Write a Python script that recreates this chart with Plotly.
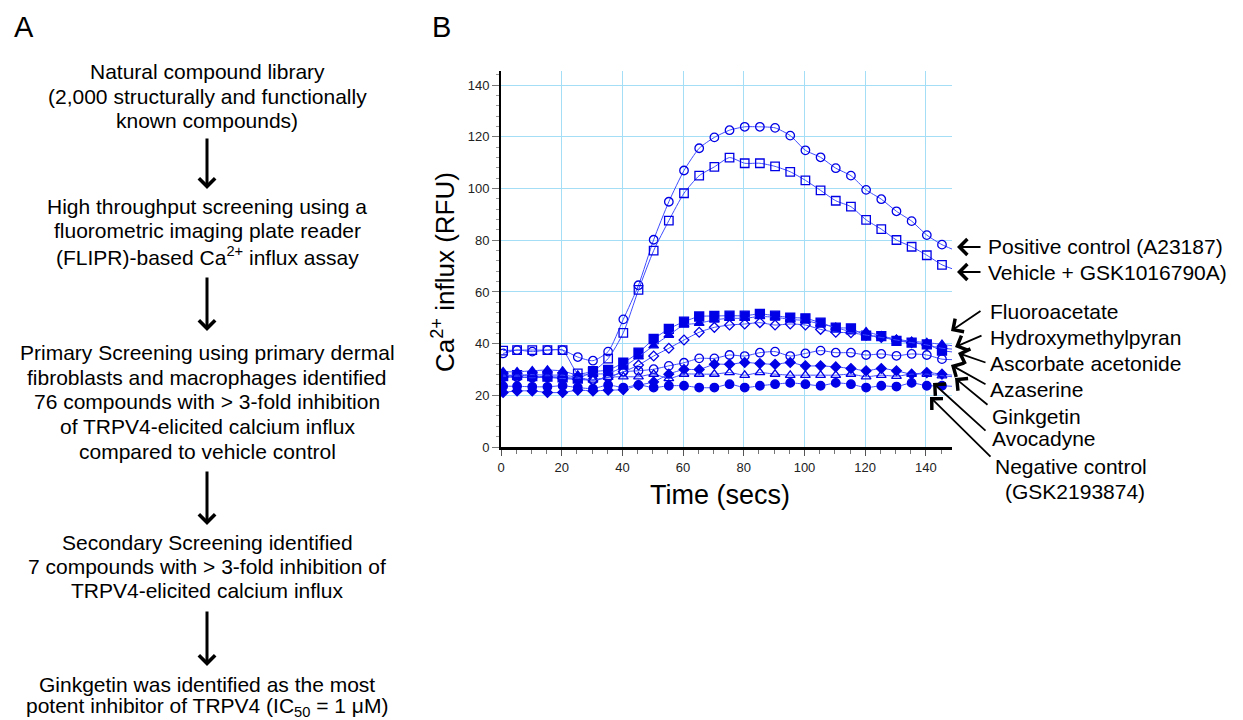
import plotly.graph_objects as go

FONT = "Liberation Sans, Arial, sans-serif"

# ---------------- data ----------------
times = [0.7, 5.3, 10.3, 15.3, 20.3, 25.3, 30.3, 35.3, 40.3, 45.3,
         50.3, 55.3, 60.3, 65.3, 70.3, 75.3, 80.3, 85.3, 90.3, 95.3,
         100.3, 105.3, 110.3, 115.3, 120.3, 125.3, 130.3, 135.3, 140.3, 145.3]
x_end = 148.6

positive = [36.2, 37.5, 36.9, 37.5, 37.5, 34.8, 33.4, 36.9, 49.4, 62.6,
            80.2, 94.9, 107.0, 115.6, 119.8, 122.6, 123.9, 123.9, 123.5, 120.5,
            114.8, 112.1, 107.9, 105.0, 99.5, 95.9, 91.2, 87.4, 82.0, 78.3]
vehicle = [37.3, 37.5, 37.5, 37.5, 37.5, 28.5, 29.4, 34.2, 44.2, 60.8,
           76.0, 87.6, 98.2, 105.0, 108.4, 112.0, 109.8, 109.8, 108.6, 106.5,
           103.2, 99.3, 95.3, 93.0, 87.9, 84.3, 80.1, 77.5, 74.2, 70.5]
fluoroacetate = [27.4, 27.8, 27.4, 27.2, 27.0, 26.5, 29.1, 29.8, 32.6, 36.5,
                 41.8, 45.7, 48.5, 50.5, 50.7, 50.8, 50.8, 51.5, 50.8, 50.1,
                 49.8, 48.1, 46.2, 45.9, 43.1, 42.9, 41.1, 40.4, 39.7, 37.3]
hydroxymethylpyran = [29.1, 29.1, 29.5, 29.8, 29.4, 27.8, 28.2, 28.5, 31.0, 34.9,
                      39.2, 43.3, 47.2, 47.9, 49.2, 49.8, 49.8, 50.5, 50.2, 49.4,
                      48.9, 47.6, 46.3, 44.6, 44.6, 43.0, 41.7, 40.9, 40.4, 39.7]
ascorbate = [27.2, 27.2, 26.9, 26.9, 26.5, 26.1, 25.9, 26.9, 29.1, 31.7,
             35.2, 38.2, 41.4, 44.4, 46.3, 47.2, 47.6, 48.1, 47.2, 47.6,
             47.2, 45.5, 44.4, 44.2, 43.3, 42.4, 41.4, 40.4, 39.5, 38.2]
azaserine = [27.0, 27.0, 26.8, 27.0, 26.8, 26.5, 25.9, 27.0, 29.1, 29.5,
             30.1, 31.4, 32.6, 34.3, 34.3, 35.6, 35.2, 36.5, 36.9, 35.2,
             36.2, 37.3, 36.5, 36.5, 35.6, 36.0, 35.3, 36.0, 35.6, 34.0]
ginkgetin = [21.1, 21.7, 21.7, 21.1, 21.1, 22.0, 21.7, 22.0, 22.2, 23.9,
             25.2, 28.2, 30.0, 30.0, 32.0, 32.0, 32.7, 32.3, 32.0, 32.7,
             31.4, 31.4, 31.0, 30.4, 29.5, 30.4, 29.5, 28.2, 28.8, 28.2]
avocadyne = [27.8, 27.8, 28.0, 27.8, 27.8, 27.0, 25.9, 27.0, 27.2, 27.2,
             28.2, 26.5, 28.2, 28.2, 28.2, 28.8, 27.8, 28.8, 28.2, 27.8,
             27.8, 27.8, 27.8, 28.2, 27.2, 27.8, 27.4, 28.2, 28.2, 27.6]
negative = [23.5, 23.5, 23.3, 23.3, 23.7, 23.0, 22.6, 24.0, 23.0, 24.0,
            23.0, 23.7, 23.7, 23.0, 23.0, 24.3, 23.0, 23.7, 24.3, 24.8,
            24.3, 23.7, 24.8, 24.3, 23.0, 23.7, 23.4, 24.8, 23.7, 23.7]

# value where each curve meets the right edge of the plot
end_values = {
    "positive": 76.6, "vehicle": 69.0, "fluoroacetate": 36.8,
    "hydroxymethylpyran": 39.2, "ascorbate": 37.9, "azaserine": 33.8,
    "ginkgetin": 27.8, "avocadyne": 27.2, "negative": 23.5,
}

x_ticks = [0, 20, 40, 60, 80, 100, 120, 140]
y_ticks = [0, 20, 40, 60, 80, 100, 120, 140]

series = [
    ("positive", positive, "circle-open", 8.5),
    ("vehicle", vehicle, "square-open", 8.5),
    ("fluoroacetate", fluoroacetate, "square", 9),
    ("hydroxymethylpyran", hydroxymethylpyran, "triangle-up", 8.5),
    ("ascorbate", ascorbate, "diamond-open", 7.5),
    ("azaserine", azaserine, "circle-open", 8.5),
    ("ginkgetin", ginkgetin, "diamond", 7.5),
    ("avocadyne", avocadyne, "triangle-up-open", 8.5),
    ("negative", negative, "circle", 8.5),
]

LINE_C = "#3f4cff"
MARK_C = "#0000e6"

fig = go.Figure()
for name, vals, sym, size in series:
    fig.add_trace(go.Scatter(
        x=times + [x_end], y=vals + [end_values[name]], mode="lines",
        line=dict(color=LINE_C, width=1, shape="spline", smoothing=0.6),
        hoverinfo="skip", showlegend=False))
    fig.add_trace(go.Scatter(
        x=times, y=vals, mode="markers", name=name,
        marker=dict(symbol=sym, size=size, color=MARK_C,
                    line=dict(color=MARK_C, width=1.3)),
        showlegend=False))

# ---------------- layout ----------------
# screen coordinates of the plot area (page body has an 8px margin)
OFF = 8
L, R, T, B = 501, 952, 71, 447
W_FIG, H_FIG = 1235, 712


def px(x):
    return (x - L) / (R - L)


def py(y):
    return (B - y) / (B - T)


fig.update_layout(
    width=W_FIG, height=H_FIG,
    margin=dict(l=L - OFF, r=W_FIG - (R - OFF), t=T - OFF, b=H_FIG - (B - OFF), pad=0),
    paper_bgcolor="white", plot_bgcolor="white",
    font=dict(family=FONT, color="#222"),
    showlegend=False,
)
fig.update_xaxes(
    range=[0, x_end], tickvals=x_ticks, ticktext=[str(v) for v in x_ticks],
    showgrid=True, gridcolor="#a3def6", gridwidth=1,
    zeroline=False, showline=True, linecolor="black", linewidth=3,
    ticks="outside", ticklen=6, tickwidth=1, tickcolor="#555",
    minor=dict(dtick=5, tick0=0, ticks="outside", ticklen=4, tickcolor="#777", showgrid=False),
    tickfont=dict(size=13, family=FONT, color="#222"),
)
fig.update_yaxes(
    range=[0, 145.5], tickvals=y_ticks, ticktext=[str(v) for v in y_ticks],
    showgrid=True, gridcolor="#a3def6", gridwidth=1,
    zeroline=False, showline=True, linecolor="black", linewidth=2,
    ticks="outside", ticklen=7, tickwidth=1, tickcolor="#777",
    minor=dict(dtick=4, tick0=0, ticks="outside", ticklen=3, tickcolor="#999", showgrid=False),
    tickfont=dict(size=13, family=FONT, color="#222"),
)

ann = []


def text(x, y, s, size=21, xanchor="center", angle=0):
    ann.append(dict(x=px(x), y=py(y), xref="paper", yref="paper", text=s,
                    showarrow=False, xanchor=xanchor, yanchor="middle",
                    textangle=angle, font=dict(size=size, family=FONT, color="black")))


def arrow(tip, tail, width=2.5, head=4, size=1.0):
    ann.append(dict(x=px(tip[0]), y=py(tip[1]), xref="paper", yref="paper",
                    ax=tail[0] - tip[0], ay=tail[1] - tip[1], axref="pixel", ayref="pixel",
                    text="", showarrow=True, arrowhead=head, arrowwidth=width,
                    arrowsize=size, arrowcolor="black", standoff=0, startstandoff=0))


# panel letters
text(24, 27, "A", size=29)
text(441, 27, "B", size=29)

# axis titles
text(720, 495, "Time (secs)", size=27)
text(443, 272, "Ca<sup>2+</sup> influx (RFU)", size=26, angle=-90)

# left flow chart
CX = 207
blocks = [
    [(71, "Natural compound library"),
     (96, "(2,000 structurally and functionally"),
     (120, "known compounds)")],
    [(206, "High throughput screening using a"),
     (231, "fluorometric imaging plate reader"),
     (256, "(FLIPR)-based Ca<sup>2+</sup> influx assay")],
    [(352, "Primary Screening using primary dermal"),
     (377, "fibroblasts and macrophages identified"),
     (401, "76 compounds with > 3-fold inhibition"),
     (426, "of TRPV4-elicited calcium influx"),
     (451, "compared to vehicle control")],
    [(542, "Secondary Screening identified"),
     (566, "7 compounds with > 3-fold inhibition of"),
     (590, "TRPV4-elicited calcium influx")],
    [(684, "Ginkgetin was identified as the most"),
     (707, "potent inhibitor of TRPV4 (IC<sub>50</sub> = 1 μM)")],
]
for blk in blocks:
    for y, s in blk:
        text(CX, y, s, size=21)

for y0, y1 in [(137, 189), (276, 331), (470, 525), (610, 666)]:
    arrow((CX, y1), (CX, y0), width=3, head=4, size=1.05)

# right-hand labels
labels = [
    (986, 246, "Positive control (A23187)"),
    (986, 272, "Vehicle + GSK1016790A)"),
    (988, 311, "Fluoroacetate"),
    (988, 337, "Hydroxymethylpyran"),
    (988, 363, "Ascorbate acetonide"),
    (988, 389, "Azaserine"),
    (990, 416, "Ginkgetin"),
    (990, 438, "Avocadyne"),
    (993, 466, "Negative control"),
    (1003, 491, "(GSK2193874)"),
]
for x, y, s in labels:
    text(x, y, s, size=21, xanchor="left")

right_arrows = [
    ((957, 247), (982, 247)),
    ((957, 272), (982, 272)),
    ((951, 331), (982, 310)),
    ((955, 347), (983, 335)),
    ((958, 353), (987, 363)),
    ((951, 365), (987, 385)),
    ((955, 378), (989, 406)),
    ((933, 383), (987, 432)),
    ((930, 397), (992, 458)),
]
for tip, tail in right_arrows:
    arrow(tip, tail, width=1.8, head=4, size=1.7)

fig.update_layout(annotations=ann)
fig.write_html("out.html")
